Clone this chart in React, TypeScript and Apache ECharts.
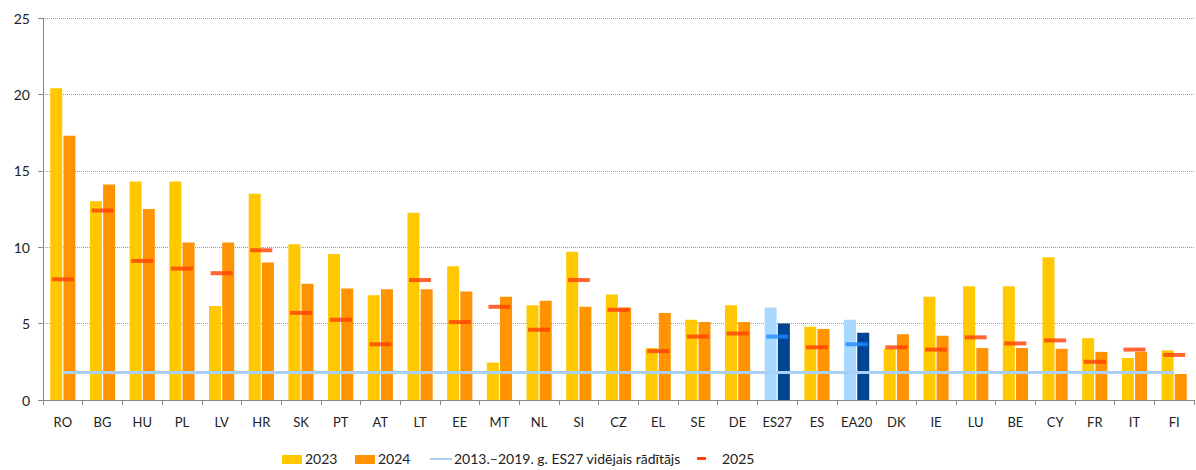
import React, { useEffect, useRef } from "react";
import * as echarts from "echarts";

const categories = ["RO","BG","HU","PL","LV","HR","SK","PT","AT","LT","EE","MT","NL","SI","CZ","EL","SE","DE","ES27","ES","EA20","DK","IE","LU","BE","CY","FR","IT","FI"];
const values2023 = [20.4,13.0,14.3,14.3,6.15,13.5,10.2,9.55,6.85,12.25,8.75,2.45,6.2,9.7,6.9,3.4,5.25,6.2,6.05,4.8,5.25,3.35,6.75,7.45,7.45,9.35,4.05,2.75,3.25];
const values2024 = [17.3,14.1,12.5,10.3,10.3,9.0,7.6,7.3,7.25,7.25,7.1,6.75,6.5,6.1,6.05,5.7,5.1,5.1,5.0,4.65,4.4,4.3,4.2,3.4,3.4,3.35,3.15,3.15,1.7];
const values2025 = [7.9,12.4,9.1,8.6,8.3,9.8,5.7,5.25,3.65,7.85,5.1,6.1,4.6,7.85,5.9,3.2,4.15,4.35,4.15,3.45,3.65,3.45,3.3,4.1,3.7,3.9,2.5,3.3,2.95];
const avg2013_2019 = 1.8;
const aggregates = ["ES27", "EA20"];
const yTicks = [0, 5, 10, 15, 20, 25];
const legendLabels = ["2023", "2024", "2013.–2019. g. ES27 vidējais rādītājs", "2025"];

const C2023 = "#FFC800";
const C2024 = "#FF9400";
const CAGG1 = "#A8D8FF";
const CAGG2 = "#004494";
const CLINE = "#A8CFF6";
const CMARK = "#FF4000";
const CMARKAGG = "#1E8CFF";
const FONT = "Lato, 'Open Sans', sans-serif";

export default function App() {
  const ref = useRef<HTMLDivElement>(null);
  useEffect(() => {
    const chart = echarts.init(ref.current!, null, { renderer: "svg" });
    const isAgg = (c: string) => aggregates.includes(c);
    chart.setOption({
      animation: false,
      textStyle: { fontFamily: FONT },
      grid: { left: 43, right: 2, top: 18, bottom: 70 },
      xAxis: {
        type: "category",
        data: categories,
        axisLine: { lineStyle: { color: "#888", width: 1 } },
        axisTick: { show: true, alignWithLabel: false, length: 5, lineStyle: { color: "#888" } },
        axisLabel: { color: "#222", fontSize: 13, margin: 15, fontFamily: FONT, interval: 0 },
      },
      yAxis: {
        type: "value",
        min: yTicks[0],
        max: yTicks[yTicks.length - 1],
        interval: 5,
        axisLine: { show: true, lineStyle: { color: "#888" } },
        axisTick: { show: true, length: 5, lineStyle: { color: "#888" } },
        axisLabel: { color: "#222", fontSize: 14, margin: 13, fontFamily: FONT },
        splitLine: { show: true, lineStyle: { color: "#999", type: [1, 1], width: 1 } },
      },
      series: [
        {
          name: "2023",
          type: "bar",
          barWidth: 12,
          barGap: "10%",
          data: values2023.map((v, i) => ({
            value: v,
            itemStyle: { color: isAgg(categories[i]) ? CAGG1 : C2023 },
          })),
        },
        {
          name: "2024",
          type: "bar",
          barWidth: 12,
          data: values2024.map((v, i) => ({
            value: v,
            itemStyle: { color: isAgg(categories[i]) ? CAGG2 : C2024 },
          })),
        },
        {
          name: "avg",
          type: "line",
          data: categories.map(() => avg2013_2019),
          symbol: "none",
          lineStyle: { color: CLINE, width: 3 },
          z: 3,
        },
        {
          name: "2025",
          type: "scatter",
          symbol: "rect",
          symbolSize: [22, 4],
          data: values2025.map((v, i) => ({
            value: v,
            itemStyle: { color: isAgg(categories[i]) ? CMARKAGG : CMARK },
          })),
          z: 4,
        },
      ],
      graphic: [
        { type: "rect", left: 282, top: 455, shape: { width: 20, height: 9 }, style: { fill: C2023 } },
        { type: "text", left: 305, top: 451, style: { text: legendLabels[0], font: `14px ${FONT}`, fill: "#222" } },
        { type: "rect", left: 355, top: 455, shape: { width: 20, height: 9 }, style: { fill: C2024 } },
        { type: "text", left: 378, top: 451, style: { text: legendLabels[1], font: `14px ${FONT}`, fill: "#222" } },
        { type: "rect", left: 430, top: 458, shape: { width: 22, height: 2 }, style: { fill: CLINE } },
        { type: "text", left: 454, top: 451, style: { text: legendLabels[2], font: `14px ${FONT}`, fill: "#222" } },
        { type: "rect", left: 697, top: 457, shape: { width: 9, height: 3 }, style: { fill: CMARK } },
        { type: "text", left: 722, top: 451, style: { text: legendLabels[3], font: `14px ${FONT}`, fill: "#222" } },
      ],
    });
    return () => chart.dispose();
  }, []);
  return <div ref={ref} style={{ position: "absolute", left: 0, top: 0, width: 1196, height: 470 }} />;
}
